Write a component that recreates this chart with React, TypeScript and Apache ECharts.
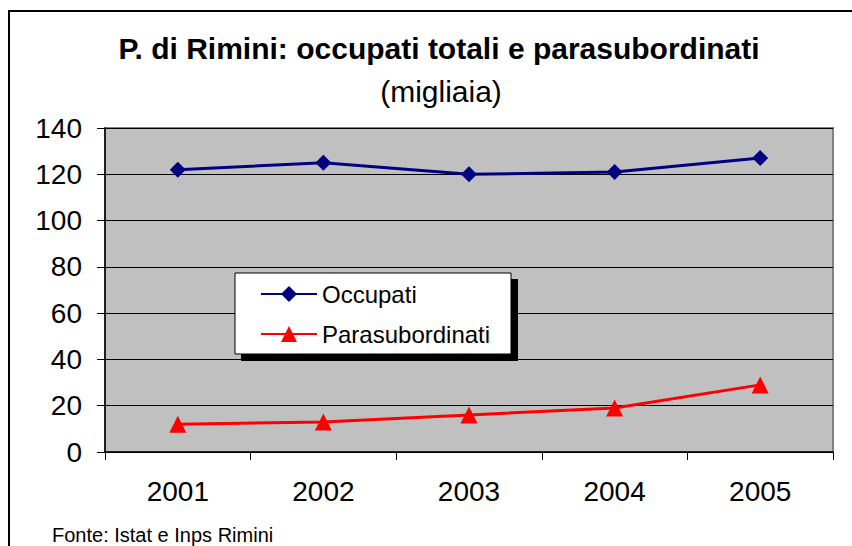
import React, { useEffect, useRef } from "react";
import * as echarts from "echarts";

const years = ["2001", "2002", "2003", "2004", "2005"];
const occupati = [122, 125, 120, 121, 127];
const parasubordinati = [12, 13, 16, 19, 29];
const titleText = "P. di Rimini: occupati totali e parasubordinati";
const subtitleText = "(migliaia)";
const sourceText = "Fonte: Istat e Inps Rimini";

export default function App() {
  const ref = useRef<HTMLDivElement>(null);
  useEffect(() => {
    if (!ref.current) return;
    const chart = echarts.init(ref.current, null, { renderer: "svg" });
    const font = "Liberation Sans, Arial, sans-serif";
    chart.setOption({
      animation: false,
      backgroundColor: "#ffffff",
      textStyle: { fontFamily: font },
      title: [
        {
          text: titleText,
          left: 434,
          top: 28,
          textAlign: "center",
          textStyle: { fontSize: 30, fontWeight: "bold", color: "#000", fontFamily: font },
        },
        {
          text: subtitleText,
          left: 436,
          top: 71,
          textAlign: "center",
          textStyle: { fontSize: 30, fontWeight: "normal", color: "#000", fontFamily: font },
        },
      ],
      grid: {
        left: 105,
        top: 128,
        right: 19,
        bottom: 94,
        show: true,
        backgroundColor: "#C0C0C0",
        borderColor: "#808080",
        borderWidth: 2,
      },
      graphic: [
        {
          type: "rect",
          shape: { x: 9, y: 11, width: 900, height: 600 },
          style: { fill: "none", stroke: "#000", lineWidth: 2 },
          z: 100,
        },
        {
          type: "rect",
          shape: { x: 241, y: 279, width: 277, height: 82 },
          style: { fill: "#000" },
          z: 50,
        },
        {
          type: "rect",
          shape: { x: 235, y: 273, width: 276, height: 81 },
          style: { fill: "#fff", stroke: "#000", lineWidth: 1 },
          z: 51,
        },
        {
          type: "text",
          left: 52,
          top: 525,
          style: { text: sourceText, fontSize: 20, fill: "#000", fontFamily: font },
          z: 100,
        },
      ],
      legend: {
        orient: "vertical",
        left: 260,
        top: 282,
        padding: 0,
        itemWidth: 56,
        itemHeight: 20,
        itemGap: 16,
        z: 60,
        textStyle: { fontSize: 24, color: "#000", fontFamily: font, lineHeight: 24 },
        data: ["Occupati", "Parasubordinati"],
      },
      xAxis: {
        type: "category",
        data: years,
        boundaryGap: true,
        axisLine: { lineStyle: { color: "#000", width: 1.5 } },
        axisTick: { show: true, length: 8, lineStyle: { color: "#000" } },
        axisLabel: { fontSize: 28, color: "#000", margin: 25, fontFamily: font },
      },
      yAxis: {
        type: "value",
        min: 0,
        max: 140,
        interval: 20,
        axisLine: { show: true, lineStyle: { color: "#000", width: 1.5 } },
        axisTick: { show: true, length: 8, lineStyle: { color: "#000" } },
        axisLabel: { fontSize: 28, color: "#000", margin: 23, fontFamily: font },
        splitLine: { show: true, lineStyle: { color: "#000", width: 1 } },
      },
      series: [
        {
          name: "Occupati",
          type: "line",
          data: occupati,
          symbol: "diamond",
          symbolSize: 16,
          lineStyle: { color: "#000080", width: 3 },
          itemStyle: { color: "#000080" },
          z: 10,
        },
        {
          name: "Parasubordinati",
          type: "line",
          data: parasubordinati,
          symbol: "triangle",
          symbolSize: 17,
          lineStyle: { color: "#FF0000", width: 3 },
          itemStyle: { color: "#FF0000" },
          z: 10,
        },
      ],
    });
    return () => chart.dispose();
  }, []);
  return (
    <div
      ref={ref}
      style={{ width: 852, height: 546, position: "absolute", left: 0, top: 0 }}
    />
  );
}
